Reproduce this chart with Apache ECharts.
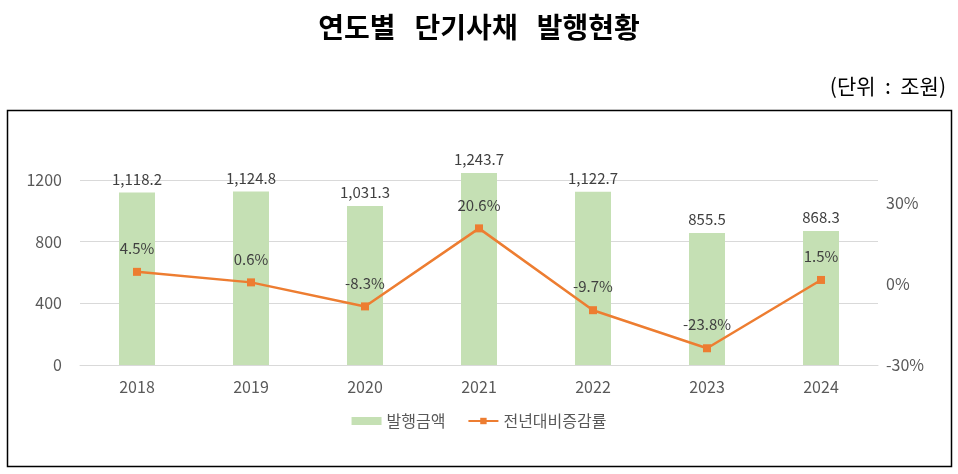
<!DOCTYPE html>
<html>
<head>
<meta charset="utf-8">
<script src="https://cdn.jsdelivr.net/npm/echarts@6/dist/echarts.min.js"></script>
<style>
  html, body { margin: 0; padding: 0; background: #fff; }
  #chart { width: 958px; height: 474px; }
</style>
</head>
<body>
<div id="chart"></div>
<script>
const years = ["2018", "2019", "2020", "2021", "2022", "2023", "2024"];
const issueAmount = [1118.2, 1124.8, 1031.3, 1243.7, 1122.7, 855.5, 868.3];
const yoyRate = [4.5, 0.6, -8.3, 20.6, -9.7, -23.8, 1.5];

const FONT = "'Noto Sans CJK KR', 'Noto Sans', sans-serif";

function fmtAmount(v) {
  return v.toLocaleString("en-US", { minimumFractionDigits: 1, maximumFractionDigits: 1 });
}

const chart = echarts.init(document.getElementById("chart"));

chart.setOption({
  animation: false,
  textStyle: { fontFamily: FONT },
  title: [
    {
      text: "연도별   단기사채   발행현황",
      left: "center",
      top: 8,
      textStyle: { fontFamily: FONT, fontSize: 28, fontWeight: "bold", color: "#000" }
    },
    {
      text: "(단위  :  조원)",
      right: 7,
      top: 71,
      textStyle: { fontFamily: FONT, fontSize: 21, fontWeight: "normal", color: "#000" }
    }
  ],
  graphic: [
    {
      type: "rect",
      shape: { x: 7.5, y: 110.5, width: 944, height: 356 },
      style: { fill: "none", stroke: "#000", lineWidth: 1.5 },
      silent: true,
      z: -1
    }
  ],
  legend: {
    bottom: 40,
    left: "center",
    itemGap: 22,
    itemWidth: 30,
    itemHeight: 8,
    textStyle: { fontFamily: FONT, fontSize: 16, color: "#595959" },
    data: [
      { name: "발행금액", icon: "rect" },
      { name: "전년대비증감률" }
    ]
  },
  grid: { left: 80, right: 80, top: 149, bottom: 109 },
  xAxis: {
    type: "category",
    data: years,
    axisTick: { show: false },
    axisLine: { lineStyle: { color: "#d9d9d9" } },
    axisLabel: { color: "#595959", fontSize: 16, margin: 14 }
  },
  yAxis: [
    {
      type: "value",
      min: 0,
      max: 1400,
      interval: 400,
      axisLabel: {
        color: "#595959",
        fontSize: 16,
        margin: 18,
        showMaxLabel: false,
        formatter: v => String(v)
      },
      splitLine: { lineStyle: { color: "#d9d9d9" }, showMaxLine: false },
      axisLine: { show: false },
      axisTick: { show: false }
    },
    {
      type: "value",
      min: -30,
      max: 50,
      interval: 30,
      axisLabel: { color: "#595959", fontSize: 16, margin: 8, formatter: "{value}%", showMaxLabel: false },
      splitLine: { show: false },
      axisLine: { show: false },
      axisTick: { show: false }
    }
  ],
  series: [
    {
      name: "발행금액",
      type: "bar",
      data: issueAmount,
      barWidth: 36,
      itemStyle: { color: "#c5e0b4" },
      label: {
        show: true,
        position: "top",
        distance: 6,
        color: "#404040",
        fontSize: 15,
        formatter: p => fmtAmount(p.value)
      }
    },
    {
      name: "전년대비증감률",
      type: "line",
      yAxisIndex: 1,
      data: yoyRate,
      symbol: "rect",
      symbolSize: 8,
      lineStyle: { color: "#ed7d31", width: 2.5 },
      itemStyle: { color: "#ed7d31" },
      label: {
        show: true,
        position: "top",
        distance: 12,
        color: "#404040",
        fontSize: 15,
        formatter: p => p.value + "%"
      }
    }
  ]
});
</script>
</body>
</html>
